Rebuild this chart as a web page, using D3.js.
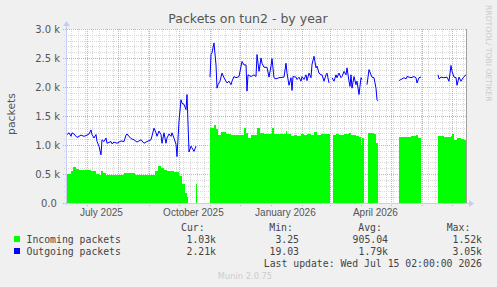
<!DOCTYPE html>
<html>
<head>
<meta charset="utf-8">
<script src="https://cdn.jsdelivr.net/npm/d3@7"></script>
<style>
  body { margin: 0; background: #f0f0f0; }
  svg { display: block; font-family: "DejaVu Sans", sans-serif; }
  .mono { font-family: "DejaVu Sans Mono", monospace; white-space: pre; }
</style>
</head>
<body>
<svg id="chart" width="497" height="287"></svg>
<script>
// [day since start, packets], null = no data
let incoming = [
  [0,500],[3,500],[5,560],[7,620],[10,580],[13,570],[18,570],[22,570],[25,560],[29,560],[30,500],
  [33,490],[35,560],[37,520],[40,490],[45,480],[50,490],[55,480],[58,520],[62,510],[66,510],
  [69,490],[75,490],[80,480],[86,480],[89,550],[92,630],[95,610],[98,570],[101,550],[104,560],
  [108,540],[111,540],[113,460],[116,320],[119,170],[121,100],[122,0],[123,null],
  [130,320],[131,320],[132,null],
  [144,1290],[146,1290],[148,1350],[150,1280],[152,1180],[155,1220],[160,1190],[165,1180],
  [170,1170],[172,1180],[178,1300],[180,1200],[182,1120],[185,1180],[188,1180],[191,1290],
  [194,1200],[198,1190],[205,1190],[206,1290],[208,1190],[215,1190],[220,1240],[221,1190],
  [225,1150],[228,1180],[231,1150],[235,1190],[238,1170],[241,1190],[245,1180],[248,1220],
  [251,1170],[255,1190],[258,1190],[264,1190],[265,null],
  [267,1180],[270,1190],[273,1180],[278,1190],[283,1200],[285,1170],[290,1150],[293,1130],
  [295,1000],[296,1120],[298,1120],[299,null],
  [302,1210],[306,1210],[308,1190],[310,1030],[312,1030],[313,null],
  [333,1130],[338,1130],[345,1150],[350,1170],[352,1120],[355,1120],[356,null],
  [372,1150],[378,1130],[385,1150],[386,1190],[388,1090],[391,1120],[395,1110],[398,1090],[400,1030]
]

let outgoing = [
  [1,1180],[3,1210],[5,1150],[6,1210],[8,1190],[11,1130],[15,1170],[18,1150],[21,1170],[23,1190],
  [25,1260],[26,1180],[28,1120],[30,1180],[31,1060],[33,980],[35,830],[36,1090],[38,1060],[40,1120],
  [41,1030],[45,1060],[46,1020],[48,1050],[51,1030],[55,1070],[58,1060],[60,1170],[61,1190],[65,1110],
  [68,1090],[71,1050],[75,1090],[78,1030],[81,1060],[85,1090],[88,1290],[90,1210],[91,1150],[93,1240],
  [95,1180],[96,1030],[98,1210],[100,1030],[101,1120],[103,1190],[105,1150],[106,1210],[108,1120],
  [110,1010],[111,800],[113,1410],[115,1780],[116,1720],[118,1700],[120,1610],[121,1870],[123,880],
  [125,980],[126,950],[128,890],[130,980],[131,null],
  [144,2170],[145,2560],[146,2590],[148,2760],[150,2380],[151,1980],[152,2040],[154,2100],[156,2240],
  [158,2160],[160,2100],[161,2070],[163,2100],[165,2040],[166,2100],[168,2180],[170,2160],[173,2180],
  [176,2440],[178,2380],[180,2380],[181,1930],[182,2210],[185,2180],[188,2210],[190,2180],[191,2560],
  [193,2270],[195,2500],[196,2410],[198,2340],[201,2340],[203,2170],[205,2360],[206,2490],[208,2160],
  [210,2140],[213,2160],[218,2170],[220,2410],[221,2240],[223,2030],[225,2160],[226,1940],[227,2180],
  [230,2170],[231,2130],[233,2170],[235,2100],[236,2180],[238,2130],[240,2210],[241,2110],[243,2240],
  [245,2160],[246,2390],[248,2530],[250,2330],[251,2360],[253,2240],[255,2210],[256,2210],[258,2100],
  [260,2210],[261,2240],[263,2070],[264,null],
  [266,2160],[268,2100],[270,2210],[271,2160],[273,2240],[275,2160],[276,2180],[278,2270],[280,2210],
  [281,2330],[283,2100],[284,2010],[285,2210],[286,1980],[288,2180],[290,2040],[291,2100],[293,1870],
  [295,2160],[296,2130],[297,null],
  [301,2040],[303,2300],[305,2210],[306,2170],[308,2160],[310,1980],[311,1780],[312,1760],[313,null],
  [333,2110],[335,2130],[338,2160],[340,2140],[341,2180],[345,2160],[348,2180],[350,2160],[351,2070],
  [353,2160],[355,2170],[356,null],
  [372,2210],[373,2140],[375,2170],[378,2160],[381,2170],[383,2100],[385,2370],[386,2270],[388,2170],
  [390,2160],[391,2030],[393,2170],[395,2100],[396,2130],[398,2180],[400,2210]
]

let yTicks = [0, 500, 1000, 1500, 2000, 2500, 3000]
let yLabels = ['0.0 ', '0.5 k', '1.0 k', '1.5 k', '2.0 k', '2.5 k', '3.0 k']
let xLabelDates = [new Date(2025, 6, 15), new Date(2025, 9, 15), new Date(2026, 0, 15), new Date(2026, 3, 15)]
let xLabels = ['July 2025', 'October 2025', 'January 2026', 'April 2026']

let legendNames = ['Incoming packets', 'Outgoing packets']
let legendColors = ['#00ff00', '#0000ff']
let legendCur = ['1.03k', '2.21k']
let legendMin = ['3.25', '19.03']
let legendAvg = ['905.04', '1.79k']
let legendMax = ['1.52k', '3.05k']

let start = new Date(2025, 5, 10, 2)
let end = new Date(2026, 6, 15, 2)
let dayDate = d => new Date(+start + d * 864e5)

let margin = { left: 66, right: 466, top: 29, bottom: 203 }

let xScale = d3.scaleTime().domain([start, end]).range([margin.left, margin.right])
let yScale = d3.scaleLinear().domain([0, 3000]).range([margin.bottom, margin.top])

let svg = d3.select('#chart')
let px = v => Math.round(v) + 0.5

// canvas
svg.append('rect')
    .attr('x', margin.left).attr('y', margin.top)
    .attr('width', margin.right - margin.left).attr('height', margin.bottom - margin.top)
    .attr('fill', '#ffffff')

let grid = svg.append('g').attr('stroke-dasharray', '1,1').attr('shape-rendering', 'crispEdges')

// minor grid
let months = xScale.ticks(d3.timeMonth)
let weeks = xScale.ticks(d3.timeWeek).filter(d => d.getDate() !== 1)
grid.selectAll('.vminor').data(weeks).enter().append('line')
    .attr('x1', d => px(xScale(d))).attr('x2', d => px(xScale(d)))
    .attr('y1', margin.top).attr('y2', margin.bottom + 2)
    .attr('stroke', '#d8d8d8')
grid.selectAll('.hminor').data(yScale.ticks(30).filter(v => v % 500 !== 0)).enter().append('line')
    .attr('x1', margin.left - 2).attr('x2', margin.right)
    .attr('y1', d => px(yScale(d))).attr('y2', d => px(yScale(d)))
    .attr('stroke', '#d8d8d8')

// major grid
grid.selectAll('.vmajor').data(months).enter().append('line')
    .attr('x1', d => px(xScale(d))).attr('x2', d => px(xScale(d)))
    .attr('y1', margin.top).attr('y2', margin.bottom + 3)
    .attr('stroke', '#eba3a3')
grid.selectAll('.hmajor').data(yTicks).enter().append('line')
    .attr('x1', margin.left - 3).attr('x2', margin.right)
    .attr('y1', d => px(yScale(d))).attr('y2', d => px(yScale(d)))
    .attr('stroke', '#eba3a3')

// incoming area
let area = d3.area()
    .defined(d => d[1] !== null)
    .curve(d3.curveStepAfter)
    .x(d => xScale(dayDate(d[0])))
    .y0(yScale(0))
    .y1(d => yScale(d[1]))

svg.append('path')
    .datum(incoming)
    .attr('d', area)
    .attr('fill', '#00ff00')
    .attr('shape-rendering', 'crispEdges')

// outgoing line
let line = d3.line()
    .defined(d => d[1] !== null)
    .x(d => xScale(dayDate(d[0])))
    .y(d => yScale(d[1]))

svg.append('path')
    .datum(outgoing)
    .attr('d', line)
    .attr('fill', 'none')
    .attr('stroke', '#0000ff')
    .attr('stroke-width', 1)

// axes lines + arrows
let axisColor = '#c6cdf5'
svg.append('line')
    .attr('x1', margin.left - 2).attr('x2', margin.right + 4)
    .attr('y1', margin.bottom + 0.5).attr('y2', margin.bottom + 0.5)
    .attr('stroke', axisColor)
svg.append('path')
    .attr('d', `M${margin.right + 3},${margin.bottom - 3}L${margin.right + 8},${margin.bottom + 0.5}L${margin.right + 3},${margin.bottom + 4}Z`)
    .attr('fill', axisColor)
svg.append('line')
    .attr('x1', margin.left + 0.5).attr('x2', margin.left + 0.5)
    .attr('y1', margin.bottom + 2).attr('y2', margin.top - 4)
    .attr('stroke', axisColor)
svg.append('path')
    .attr('d', `M${margin.left - 3},${margin.top - 3}L${margin.left + 0.5},${margin.top - 8}L${margin.left + 4},${margin.top - 3}Z`)
    .attr('fill', axisColor)
svg.append('line')
    .attr('x1', margin.right + 0.5).attr('x2', margin.right + 0.5)
    .attr('y1', margin.top).attr('y2', margin.bottom)
    .attr('stroke', '#a0a0a0')

// tick labels
let yAxis = d3.axisLeft(yScale)
    .tickValues(yTicks)
    .tickFormat((d, i) => yLabels[i])
    .tickSize(0)
    .tickPadding(0)
let gy = svg.append('g')
    .attr('transform', `translate(${60},0)`)
    .call(yAxis)
gy.select('.domain').remove()
gy.selectAll('text')
    .attr('class', 'mono')
    .style('font-family', '"DejaVu Sans", sans-serif')
    .attr('font-size', 10)
    .attr('fill', '#555')
    .attr('dy', '0.36em')

let xAxis = d3.axisBottom(xScale)
    .tickValues(xLabelDates)
    .tickFormat((d, i) => xLabels[i])
    .tickSize(0)
    .tickPadding(0)
let gx = svg.append('g')
    .attr('transform', `translate(0,${215.5})`)
    .call(xAxis)
gx.select('.domain').remove()
gx.selectAll('text')
    .attr('font-size', 10)
    .attr('fill', '#555')
    .attr('dy', 0)

// titles
svg.append('text')
    .attr('x', 248).attr('y', 23)
    .attr('text-anchor', 'middle')
    .attr('font-size', 12.5)
    .attr('fill', '#555')
    .text('Packets on tun2 - by year')

svg.append('text')
    .attr('transform', 'translate(15,114) rotate(-90)')
    .attr('text-anchor', 'middle')
    .attr('font-size', 10.8)
    .attr('fill', '#555')
    .text('packets')

svg.append('text')
    .attr('transform', 'translate(485.5,5) rotate(90)')
    .attr('font-size', 7.7)
    .attr('fill', '#cccccc')
    .text('RRDTOOL/ TOBI OETIKER')

// legend
let legend = svg.append('g').attr('class', 'mono').attr('font-size', 9.8).attr('fill', '#444')
let heads = [['Cur:', 181], ['Min:', 269.3], ['Avg:', 358.3], ['Max:', 446.7]]
heads.forEach(h => {
    legend.append('text').attr('x', h[1]).attr('y', 230.5).text(h[0])
})
let cols = [[legendCur, 216], [legendMin, 299], [legendAvg, 388], [legendMax, 482]]
legendNames.forEach((name, i) => {
    let yy = 242.5 + i * 12
    legend.append('rect')
        .attr('x', 14).attr('y', yy - 6.5)
        .attr('width', 6).attr('height', 6)
        .attr('fill', legendColors[i])
    legend.append('text').attr('x', 26.5).attr('y', yy).text(name)
    cols.forEach(c => {
        legend.append('text').attr('x', c[1]).attr('y', yy)
            .attr('text-anchor', 'end').text(c[0][i])
    })
})
legend.append('text')
    .attr('x', 482).attr('y', 266.5)
    .attr('text-anchor', 'end')
    .text('Last update: Wed Jul 15 02:00:00 2026')

svg.append('text')
    .attr('x', 245).attr('y', 278.5)
    .attr('text-anchor', 'middle')
    .attr('font-size', 8.3)
    .attr('fill', '#cccccc')
    .text('Munin 2.0.75')
</script>
</body>
</html>
